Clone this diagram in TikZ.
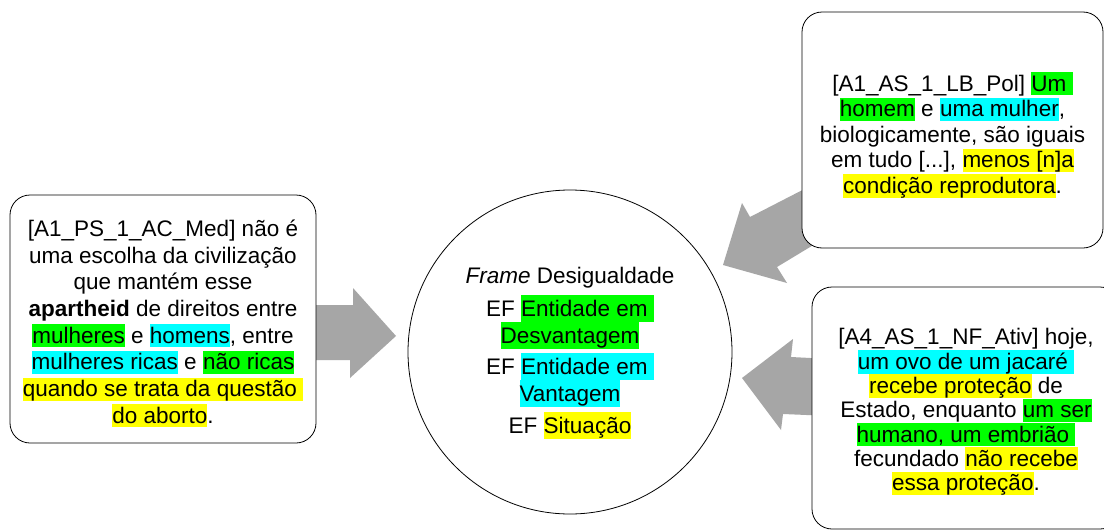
\documentclass[tikz,border=0pt]{standalone}
\usepackage{fontspec}
\setmainfont{Liberation Sans}
\usepackage{xcolor}
\definecolor{hlgreen}{HTML}{00FF00}
\definecolor{hlcyan}{HTML}{00FFFF}
\definecolor{hlyellow}{HTML}{FFFF00}
\definecolor{arrowgray}{HTML}{A6A6A6}
\newdimen\hlht
\newdimen\hldp
\newcommand\hl[2]{{\fboxsep=0pt\colorbox{#1}{\vrule width 0pt height \hlht depth \hldp\relax #2}}}
\newcommand\quotefontA{\fontsize{22.5}{26.7}\selectfont\lineskiplimit=-100pt\relax\hlht=19pt\relax\hldp=4pt\relax}
\newcommand\quotefontB{\fontsize{22.5}{25.5}\selectfont\lineskiplimit=-100pt\relax\hlht=19pt\relax\hldp=4pt\relax}
\newcommand\quotefontC{\fontsize{22.5}{24.3}\selectfont\lineskiplimit=-100pt\relax\hlht=19pt\relax\hldp=4pt\relax}
\newcommand\framefont{\fontsize{22.5}{27}\selectfont\lineskiplimit=-100pt\relax\hlht=22pt\relax\hldp=5pt\relax}
\tikzset{
  quotebox/.style={draw=black, line width=0.8pt, rounded corners=20pt, fill=white, inner sep=0pt},
  quotetext/.style={align=center, inner sep=0pt},
  framecircle/.style={draw=black, line width=0.8pt, circle, fill=white, minimum size=324pt},
  frametext/.style={align=center, inner sep=0pt, font=\framefont},
  blockarrow/.style={fill=arrowgray, draw=none}
}
\begin{document}
\begin{tikzpicture}[x=1pt,y=-1pt]
\useasboundingbox (0,0) rectangle (1104,530);
\clip (0,0) rectangle (1104,530);
\fill[white] (0,0) rectangle (1104,530);
% block arrows
\fill[blockarrow] (300,305) -- (353,305) -- (353,288) -- (396,336) -- (350,378) -- (350,360) -- (300,360) -- cycle;
\fill[blockarrow] (820,181) -- (750,217) -- (742,203) -- (723,265) -- (787,283) -- (777,267) -- (820,241) -- cycle;
\fill[blockarrow] (830,359) -- (791,357) -- (793,339) -- (742,378) -- (781,430) -- (783,414) -- (830,416) -- cycle;
% central frame
\node[framecircle] (frame) at (570,352) {};
\node[frametext] (frametxt) at (570,353) {\textit{Frame} Desigualdade\\[6pt]
EF \hl{hlgreen}{Entidade em }\\
\hl{hlgreen}{Desvantagem}\\[4pt]
EF \hl{hlcyan}{Entidade em }\\
\hl{hlcyan}{Vantagem}\\[5pt]
EF \hl{hlyellow}{Situação}};
% quote boxes
\node[quotebox, minimum width=306pt, minimum height=248pt] (q1) at (163,319) {};
\node[quotetext, font=\quotefontA] (q1txt) at (163,323.5) {[A1\_PS\_1\_AC\_Med] não é\\
uma escolha da civilização\\
que mantém esse\\
\textbf{apartheid} de direitos entre\\
\hl{hlgreen}{mulheres} e \hl{hlcyan}{homens}, entre\\
\hl{hlcyan}{mulheres ricas} e \hl{hlgreen}{não ricas}\\
\hl{hlyellow}{quando se trata da questão }\\
\hl{hlyellow}{do aborto}.};
\node[quotebox, minimum width=301pt, minimum height=236pt] (q2) at (952.5,130) {};
\node[quotetext, font=\quotefontB] (q2txt) at (952.5,135) {[A1\_AS\_1\_LB\_Pol] \hl{hlgreen}{Um }\\
\hl{hlgreen}{homem} e \hl{hlcyan}{uma mulher},\\
biologicamente, são iguais\\
em tudo [...], \hl{hlyellow}{menos [n]a}\\
\hl{hlyellow}{condição reprodutora}.};
\node[quotebox, minimum width=308pt, minimum height=242pt] (q3) at (966,408) {};
\node[quotetext, font=\quotefontC] (q3txt) at (966,412) {[A4\_AS\_1\_NF\_Ativ] hoje,\\
\hl{hlcyan}{um ovo de um jacaré }\\
\hl{hlyellow}{recebe proteção} de\\
Estado, enquanto \hl{hlgreen}{um ser}\\
\hl{hlgreen}{humano, um embrião }\\
fecundado \hl{hlyellow}{não recebe}\\
\hl{hlyellow}{essa proteção}.};
\end{tikzpicture}
\end{document}
